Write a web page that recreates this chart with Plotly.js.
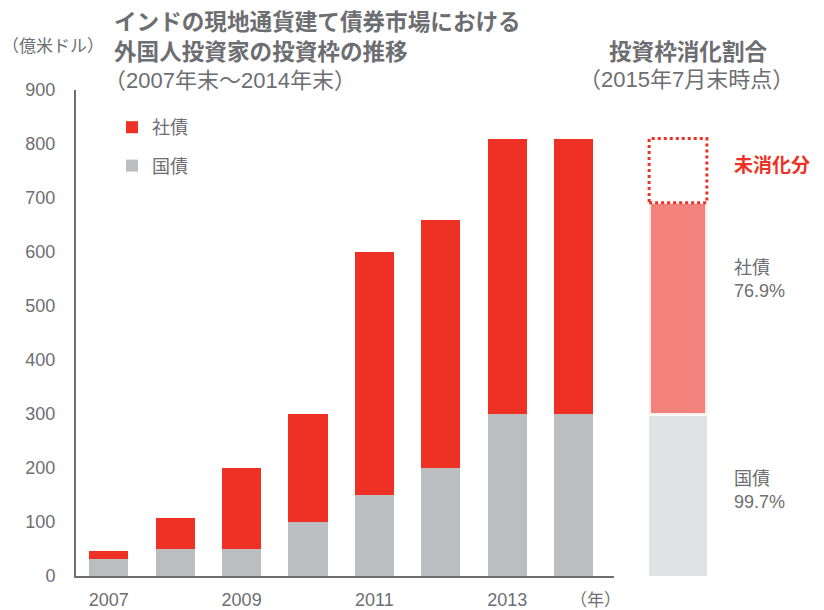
<!DOCTYPE html>
<html><head><meta charset="utf-8">
<script src="https://cdn.plot.ly/plotly-3.0.1.min.js"></script>
<style>html,body{margin:0;padding:0;background:#fff}#chart{width:824px;height:610px}</style>
</head><body><div id="chart"></div>
<script>
// ---- data ----
const years = [2007, 2008, 2009, 2010, 2011, 2012, 2013, 2014];
const govQuota = [32, 50, 50, 100, 150, 200, 300, 300];      // 国債 (億米ドル)
const corpQuota = [15, 58, 150, 200, 450, 460, 510, 510];    // 社債 (億米ドル)
const tickYears = [2007, 2009, 2011, 2013];
const yTicks = [0, 100, 200, 300, 400, 500, 600, 700, 800, 900];
const usagePos = [0];
const govLimit2015 = 300;
const corpLimit2015 = 510;
const govUsedPct = 99.7;
const corpUsedPct = 76.9;

// ---- layout helpers ----
const W = 824, H = 610, L = 76, R = 0, T = 90, B = 34;
function px(x) { return (x - L) / (W - L - R); }
function py(y) { return (H - B - y) / (H - T - B); }

const FONT = '"Liberation Sans", Arial, "Noto Sans CJK JP", sans-serif';
const TXT = '#6d6e71';
const RED = '#ee3124';
const GREY = '#bcbdc0';
const PINK = '#f4827c';
const LGREY = '#e1e2e4';

const govUsed = govLimit2015 * govUsedPct / 100;
const corpUsed = corpLimit2015 * corpUsedPct / 100;
const w2 = 0.76;

const traces = [
  { type: 'bar', x: years, y: govQuota, name: '国債', marker: { color: GREY, line: { width: 0 } },
    width: 0.59, legendgroup: 'g', legendrank: 2, hoverinfo: 'x+y+name' },
  { type: 'bar', x: years, y: corpQuota, name: '社債', marker: { color: RED, line: { width: 0 } },
    width: 0.59, legendgroup: 'c', legendrank: 1, hoverinfo: 'x+y+name' },
  { type: 'bar', x: usagePos, y: [govUsed], xaxis: 'x2', yaxis: 'y', showlegend: false,
    marker: { color: LGREY, line: { width: 0 } }, width: w2 },
  { type: 'bar', x: usagePos, y: [corpUsed], xaxis: 'x2', yaxis: 'y', showlegend: false,
    marker: { color: PINK, line: { width: 3, color: 'rgba(255,255,255,0.85)' } }, width: w2 }
];

const layout = {
  width: W, height: H,
  margin: { l: L, r: R, t: T, b: B, pad: 0 },
  paper_bgcolor: '#fff', plot_bgcolor: 'rgba(0,0,0,0)',
  barmode: 'stack', bargap: 0,
  font: { family: FONT, color: TXT, size: 18 },
  xaxis: {
    domain: [0, px(614)], range: [2006.506, 2014.608], type: 'linear',
    tickvals: tickYears, ticktext: tickYears.map(String), ticks: '',
    showgrid: false, zeroline: false, showline: true, linecolor: '#6d6e71', linewidth: 2,
    tickfont: { size: 18, color: TXT }, ticklabelstandoff: 6, fixedrange: true
  },
  xaxis2: {
    domain: [px(640), px(716)], range: [-0.5, 0.5], anchor: 'y', visible: false, fixedrange: true
  },
  yaxis: {
    range: [0, 900], tickvals: yTicks, ticks: '', showgrid: false, zeroline: false,
    showline: true, linecolor: '#6d6e71', linewidth: 2,
    tickfont: { size: 18, color: TXT }, ticklabelstandoff: 15, fixedrange: true
  },
  showlegend: true,
  legend: {
    x: px(112), y: py(109), xanchor: 'left', yanchor: 'top',
    traceorder: 'grouped', tracegroupgap: 12,
    font: { size: 18, color: TXT }, bgcolor: 'rgba(0,0,0,0)'
  },
  shapes: [
    { type: 'rect', xref: 'x2', yref: 'y', x0: -w2 / 2, x1: w2 / 2,
      y0: govUsed + corpUsed, y1: govLimit2015 + corpLimit2015,
      line: { color: RED, width: 3, dash: 'dot' }, fillcolor: 'rgba(0,0,0,0)' }
  ],
  annotations: [
    { text: '<b>インドの現地通貨建て債券市場における</b>', x: px(112), y: py(23), xref: 'paper', yref: 'paper',
      xanchor: 'left', yanchor: 'middle', showarrow: false, font: { size: 22.6, color: TXT } },
    { text: '<b>外国人投資家の投資枠の推移</b>', x: px(112), y: py(52), xref: 'paper', yref: 'paper',
      xanchor: 'left', yanchor: 'middle', showarrow: false, font: { size: 22.6, color: TXT } },
    { text: '（2007年末～2014年末）', x: px(102), y: py(81), xref: 'paper', yref: 'paper',
      xanchor: 'left', yanchor: 'middle', showarrow: false, font: { size: 22, color: TXT } },
    { text: '（億米ドル）', x: px(0), y: py(47), xref: 'paper', yref: 'paper',
      xanchor: 'left', yanchor: 'middle', showarrow: false, font: { size: 17, color: TXT } },
    { text: '<b>投資枠消化割合</b>', x: px(688), y: py(52), xref: 'paper', yref: 'paper',
      xanchor: 'center', yanchor: 'middle', showarrow: false, font: { size: 22.6, color: TXT } },
    { text: '（2015年7月末時点）', x: px(686), y: py(80), xref: 'paper', yref: 'paper',
      xanchor: 'center', yanchor: 'middle', showarrow: false, font: { size: 22, color: TXT } },
    { text: '<b>未消化分</b>', x: px(732), y: py(165), xref: 'paper', yref: 'paper',
      xanchor: 'left', yanchor: 'middle', showarrow: false, font: { size: 19, color: RED } },
    { text: '社債<br>' + corpUsedPct.toFixed(1) + '%', x: px(732), y: py(279), xref: 'paper', yref: 'paper',
      xanchor: 'left', yanchor: 'middle', align: 'left', showarrow: false, font: { size: 18, color: TXT } },
    { text: '国債<br>' + govUsedPct.toFixed(1) + '%', x: px(732), y: py(490), xref: 'paper', yref: 'paper',
      xanchor: 'left', yanchor: 'middle', align: 'left', showarrow: false, font: { size: 18, color: TXT } },
    { text: '（年）', x: px(595), y: py(600), xref: 'paper', yref: 'paper',
      xanchor: 'center', yanchor: 'middle', showarrow: false, font: { size: 17, color: TXT } }
  ]
};

Plotly.newPlot('chart', traces, layout, { displayModeBar: false, staticPlot: true });
</script>
</body></html>
